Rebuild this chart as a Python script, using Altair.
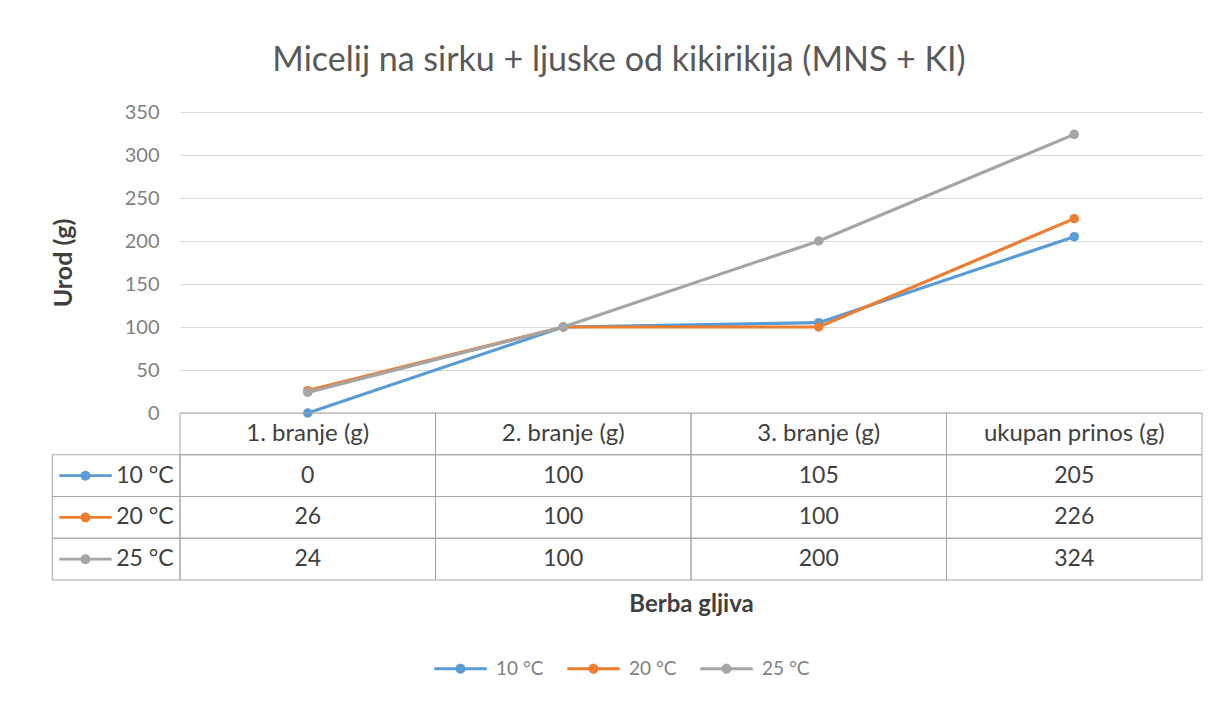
import altair as alt
import pandas as pd

# ---------------- data ----------------
categories = ["1. branje (g)", "2. branje (g)", "3. branje (g)", "ukupan prinos (g)"]
series = ["10 °C", "20 °C", "25 °C"]
values_10 = [0, 100, 105, 205]
values_20 = [26, 100, 100, 226]
values_25 = [24, 100, 200, 324]
colors = ["#5B9BD5", "#ED7D31", "#A5A5A5"]
y_ticks = [0, 50, 100, 150, 200, 250, 300, 350]
chart_title = "Micelij na sirku + ljuske od kikirikija (MNS + KI)"
y_title = "Urod (g)"
x_title = "Berba gljiva"

FONT = "Lato"
W, H = 1022, 301
TABLE_BOTTOM = 468
SYMBOL = ("M-1,-0.055L1,-0.055L1,0.055L-1,0.055Z "
          "M-0.19,0A0.19,0.19 0 1,1 0.19,0A0.19,0.19 0 1,1 -0.19,0Z")

all_values = [values_10, values_20, values_25]
rows = []
for r, (s, vals) in enumerate(zip(series, all_values)):
    for c, (cat, v) in enumerate(zip(categories, vals)):
        rows.append({"series": s, "category": cat, "value": v,
                     "col": c + 0.5, "row": r + 1.5})
df = pd.DataFrame(rows)

header = pd.DataFrame({"category": categories,
                       "col": [i + 0.5 for i in range(len(categories))],
                       "row": [0.5] * len(categories)})

cells = []
for r in range(len(series) + 1):
    for c in range(len(categories)):
        cells.append({"x": c, "x2": c + 1, "y": r, "y2": r + 1})
for r in range(1, len(series) + 1):
    cells.append({"x": -0.5, "x2": 0, "y": r, "y2": r + 1})
cells = pd.DataFrame(cells)

labels = pd.DataFrame({"series": series,
                       "row": [r + 1.5 for r in range(len(series))],
                       "tx": [-0.025] * len(series),
                       "sx": [-0.37] * len(series)})

color_scale = alt.Scale(domain=series, range=colors)
legend = alt.Legend(orient="none", legendX=254, legendY=530,
                    direction="horizontal", title=None,
                    symbolType=SYMBOL, symbolSize=2750,
                    symbolStrokeWidth=0, labelFont=FONT,
                    labelFontSize=19, labelColor="#7F7F7F",
                    labelOffset=9, columnPadding=23)
color_enc = alt.Color("series:N", scale=color_scale, legend=legend)

# ---------------- line chart ----------------
x_enc = alt.X("category:N", sort=categories,
              scale=alt.Scale(domain=categories, padding=0.5),
              axis=alt.Axis(labels=False, ticks=False, domain=False, grid=False,
                            title=x_title, offset=TABLE_BOTTOM - H, titlePadding=12,
                            titleFont=FONT, titleFontSize=24, titleFontWeight="bold",
                            titleColor="#404040"))
y_enc = alt.Y("value:Q", scale=alt.Scale(domain=[0, 350], nice=False),
              axis=alt.Axis(values=y_ticks, title=y_title, ticks=False, domain=False,
                            labelFont=FONT, labelFontSize=20, labelColor="#808080",
                            labelPadding=21, gridColor="#D9D9D9", gridWidth=1,
                            titleFont=FONT, titleFontSize=25, titleFontWeight="bold",
                            titleColor="#404040", titlePadding=48))

base = alt.Chart(df)
lines = base.mark_line(strokeWidth=3.2).encode(
    x=x_enc, y=y_enc, color=color_enc, order=alt.Order("col:Q"),
)
points = base.mark_circle(size=90, opacity=1).encode(
    x=alt.X("category:N", sort=categories), y="value:Q", color=color_enc,
)
plot = alt.layer(lines, points)

# ---------------- data table ----------------
tx = alt.Scale(domain=[0, 4], nice=False, zero=False)
ty = alt.Scale(domain=[0, 4], range=[H, TABLE_BOTTOM], nice=False, zero=False)

grid = alt.Chart(cells).mark_rect(fill=None, stroke="#A6A6A6", strokeWidth=1).encode(
    x=alt.X("x:Q", scale=tx, axis=None), x2="x2:Q",
    y=alt.Y("y:Q", scale=ty, axis=None), y2="y2:Q",
)
head_text = alt.Chart(header).mark_text(font=FONT, fontSize=24, color="#404040").encode(
    x=alt.X("col:Q", scale=tx, axis=None),
    y=alt.Y("row:Q", scale=ty, axis=None),
    text="category:N",
)
val_text = alt.Chart(df).mark_text(font=FONT, fontSize=23, color="#404040").encode(
    x=alt.X("col:Q", scale=tx, axis=None),
    y=alt.Y("row:Q", scale=ty, axis=None),
    text="value:Q",
)
lab_text = alt.Chart(labels).mark_text(font=FONT, fontSize=23, color="#404040",
                                       align="right").encode(
    x=alt.X("tx:Q", scale=tx, axis=None),
    y=alt.Y("row:Q", scale=ty, axis=None),
    text="series:N",
)
lab_sym = alt.Chart(labels).mark_point(shape=SYMBOL, filled=True, size=2750,
                                       opacity=1, strokeWidth=0).encode(
    x=alt.X("sx:Q", scale=tx, axis=None),
    y=alt.Y("row:Q", scale=ty, axis=None),
    color=color_enc,
)

table = alt.layer(grid, head_text, val_text, lab_text, lab_sym)

chart = alt.layer(plot, table).resolve_scale(
    x="independent", y="independent"
).properties(
    width=W, height=H,
    autosize=alt.AutoSizeParams(type="none"),
    padding={"left": 172, "top": 104, "right": 7, "bottom": 282},
    background="white",
    title=alt.TitleParams(text=chart_title, font=FONT, fontSize=34,
                          fontWeight="normal", color="#595959",
                          anchor="middle", dx=-72, offset=24),
).configure_view(stroke=None)

chart.save("out.html", embed_options={"renderer": "svg", "actions": False})
